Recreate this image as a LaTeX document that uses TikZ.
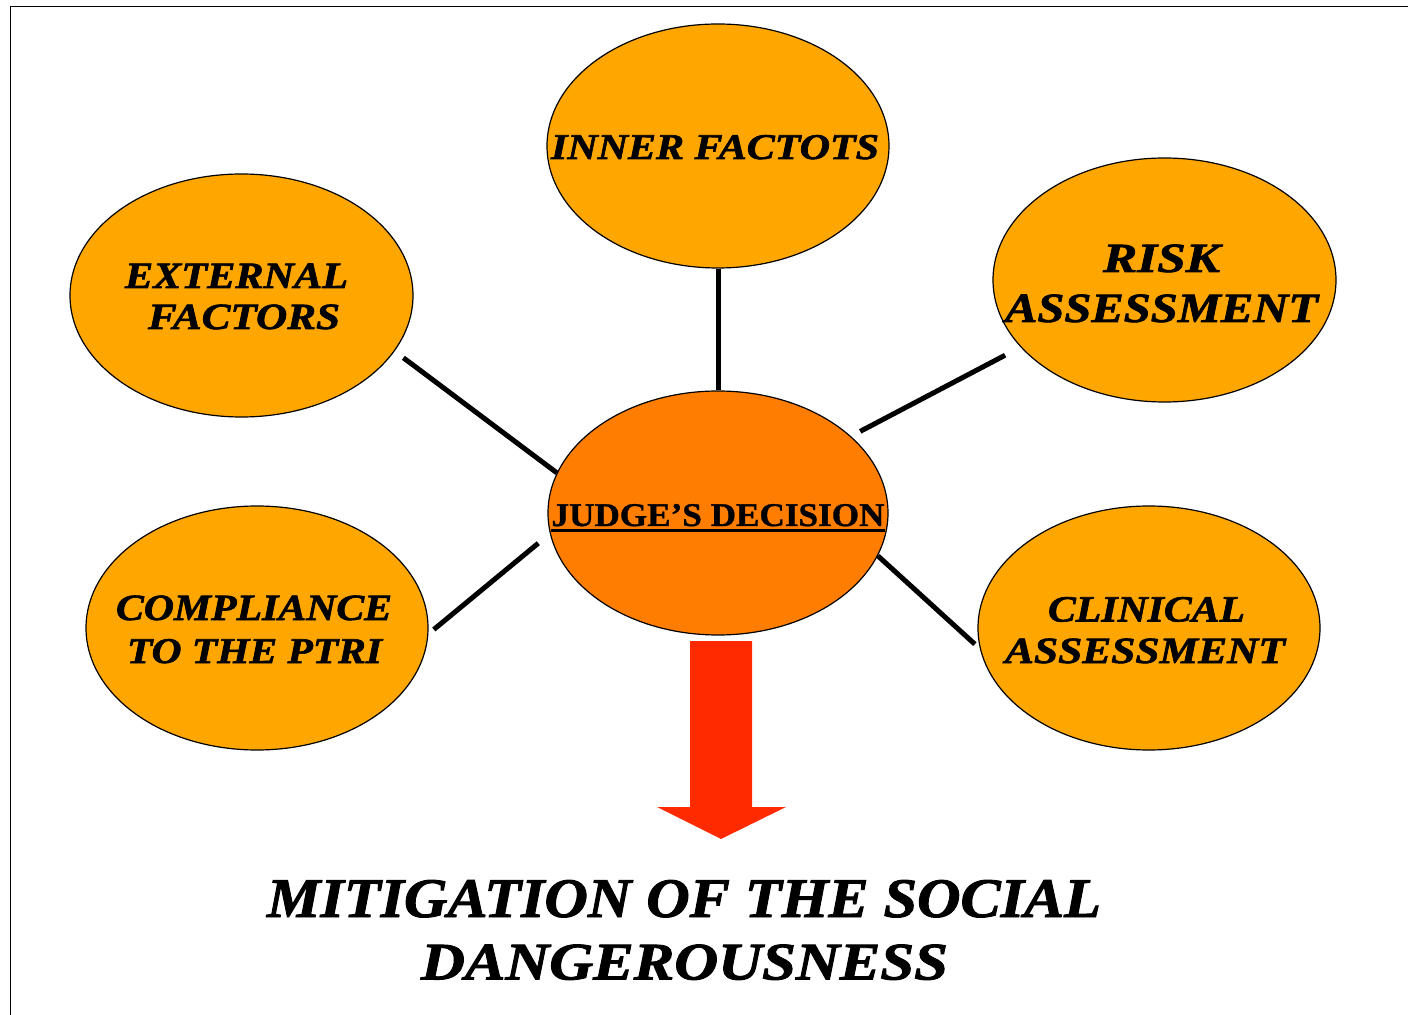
\documentclass[tikz,border=0pt]{standalone}
\usepackage{fontspec}
\setmainfont{Liberation Serif}[BoldItalicFeatures={FakeBold=1.6},BoldFeatures={FakeBold=1.0}]
\usepackage{graphicx}
\usetikzlibrary{shapes.geometric}
\definecolor{outerfill}{HTML}{FFA600}
\definecolor{judgefill}{HTML}{FF7D00}
\definecolor{arrowred}{HTML}{FF2A00}
\newcommand\fitln[3]{\resizebox{#1pt}{#2pt}{\bfseries\itshape #3}}
\begin{document}
\begin{tikzpicture}[x=0.5pt,y=-0.5pt,
  ell/.style={ellipse,draw=black,line width=0.6pt,inner sep=0pt},
  outer/.style={ell,fill=outerfill,minimum width=171pt,minimum height=122pt},
  conn/.style={line width=2.5pt,black},
  txt/.style={inner sep=0pt,anchor=base}]
\useasboundingbox (0,0) rectangle (1408,1015);
% frame
\draw[line width=0.75pt] (10.5,1016) -- (10.5,6.5) -- (1410,6.5);
% ellipses
\node[outer] (inner) at (718,146) {};
\node[outer,minimum width=171.5pt,minimum height=121.5pt] (ext) at (241.5,295.5) {};
\node[outer,minimum width=171.5pt] (risk) at (1164.5,280) {};
\node[outer] (comp) at (257,628) {};
\node[outer] (clin) at (1149,628) {};
\node[ell,fill=judgefill,minimum width=170pt,minimum height=122pt] (judge) at (718,513) {};
% connectors
\draw[conn] (inner.south) -- (judge.north);
\draw[conn,shorten <=5.5pt] (ext.-20.1) -- (judge.166.5);
\draw[conn,shorten <=8.7pt,shorten >=5.2pt] (risk.205.3) -- (judge.30.7);
\draw[conn,shorten <=3.5pt,shorten >=7.5pt] (comp.-2.25) -- (judge.187.5);
\draw[conn,shorten <=3.4pt] (clin.187.5) -- (judge.-15.7);
% texts
\node[txt] (t-inner) at (715,159) {\fitln{164}{12}{INNER FACTOTS}};
\node[txt] (t-ext1) at (236.5,288) {\fitln{111.5}{12.25}{EXTERNAL}};
\node[txt] (t-ext2) at (244,329) {\fitln{96}{12.25}{FACTORS}};
\node[txt] (t-risk1) at (1161.5,272) {\fitln{58.5}{13.75}{RISK}};
\node[txt] (t-risk2) at (1161.5,322) {\fitln{156.5}{13.75}{ASSESSMENT}};
\node[txt] (t-comp1) at (254,620) {\fitln{138}{12.25}{COMPLIANCE}};
\node[txt] (t-comp2) at (254.5,663) {\fitln{127.5}{12}{TO THE PTRI}};
\node[txt] (t-clin1) at (1146.5,621.5) {\fitln{98.5}{12.25}{CLINICAL}};
\node[txt] (t-clin2) at (1145,663) {\fitln{140}{12.25}{ASSESSMENT}};
\node[txt] (t-judge) at (718,526) {\resizebox{166.5pt}{11pt}{\bfseries JUDGE’S DECISION}};
\draw[line width=1.15pt] ([yshift=-2.25pt]t-judge.base west) -- ([yshift=-2.25pt]t-judge.base east);
% block arrow
\fill[arrowred] (690,641) -- (752,641) -- (752,807) -- (786,807) -- (721,839) -- (657,807) -- (690,807) -- cycle;
% bottom title
\node[txt] (t-mit1) at (684,917) {\fitln{417}{18.5}{MITIGATION OF THE SOCIAL}};
\node[txt] (t-mit2) at (684.5,979.5) {\fitln{263.5}{17.5}{DANGEROUSNESS}};
\end{tikzpicture}
\end{document}
